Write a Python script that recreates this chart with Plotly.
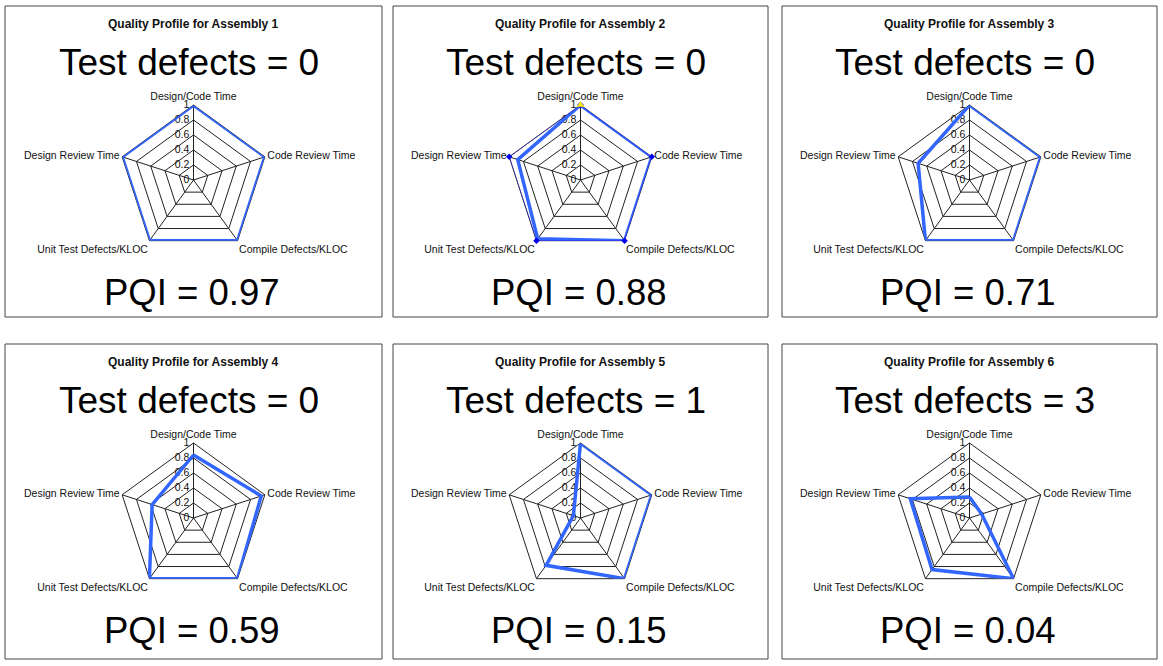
import plotly.graph_objects as go

# ---------------- data ----------------
categories = ["Design/Code Time", "Code Review Time", "Compile Defects/KLOC",
              "Unit Test Defects/KLOC", "Design Review Time"]
assembly_names = ["Assembly 1", "Assembly 2", "Assembly 3",
                  "Assembly 4", "Assembly 5", "Assembly 6"]
profile_1 = [1.00, 1.00, 1.00, 1.00, 1.00]
profile_2 = [1.00, 1.00, 1.00, 0.97, 0.88]
profile_3 = [1.00, 1.00, 1.00, 1.00, 0.72]
profile_4 = [0.84, 0.95, 1.00, 1.00, 0.58]
profile_5 = [1.00, 1.00, 1.00, 0.78, 0.10]
profile_6 = [0.28, 0.17, 1.00, 0.85, 0.83]
profiles = [profile_1, profile_2, profile_3, profile_4, profile_5, profile_6]
reference_2 = [1.00, 1.00, 1.00, 1.00, 1.00]   # thin marked series in panel 2
test_defects = [0, 0, 0, 0, 1, 3]
pqi_values = [0.97, 0.88, 0.71, 0.59, 0.15, 0.04]
radial_ticks = [0, 0.2, 0.4, 0.6, 0.8, 1]
radial_tick_labels = ["0", "0.2", "0.4", "0.6", "0.8", "1"]

# ---------------- layout geometry ----------------
W, H = 1163, 666
col_left = [5, 393, 782]
col_right = [382, 768, 1157]
row_top = [6, 344]
row_bottom = [317, 659]
R = 75
FONT = "Arial, Liberation Sans, sans-serif"
LINE_BLUE = "#3366FF"

fig = go.Figure()
shapes, annotations = [], []
layout_polars = {}

for i in range(6):
    row, col = divmod(i, 3)
    l, r_ = col_left[col], col_right[col]
    t, b = row_top[row], row_bottom[row]
    cx = (l + r_) / 2
    cy = t + 174
    pid = "polar" if i == 0 else f"polar{i + 1}"

    vals = profiles[i]
    fig.add_trace(go.Scatterpolar(
        r=vals + vals[:1], theta=categories + categories[:1],
        mode="lines", line=dict(color=LINE_BLUE, width=3.5),
        subplot=pid, showlegend=False, hoverinfo="r+theta"))
    if i == 1:
        fig.add_trace(go.Scatterpolar(
            r=reference_2 + reference_2[:1], theta=categories + categories[:1],
            mode="lines+markers", line=dict(color="#3333FF", width=1),
            marker=dict(color="#0000EE", size=5, symbol="diamond"),
            subplot=pid, showlegend=False))
        fig.add_trace(go.Scatterpolar(
            r=reference_2[:1], theta=categories[:1], mode="markers",
            marker=dict(color="#FFEE00", size=7, symbol="triangle-up"),
            subplot=pid, showlegend=False))

    layout_polars[pid] = dict(
        domain=dict(x=[(cx - R) / W, (cx + R) / W],
                    y=[1 - (cy + R) / H, 1 - (cy - R) / H]),
        gridshape="linear",
        bgcolor="white",
        angularaxis=dict(
            direction="clockwise", rotation=90, layer="below traces",
            categoryorder="array", categoryarray=categories,
            showline=True, linecolor="#222", linewidth=1,
            showgrid=True, gridcolor="#222", gridwidth=1,
            ticks="", tickfont=dict(family=FONT, size=10.5, color="#111")),
        radialaxis=dict(
            range=[0, 1], angle=90, side="counterclockwise", tickangle=90,
            layer="below traces",
            tickvals=radial_ticks, ticktext=radial_tick_labels,
            showline=True, linecolor="#222", linewidth=1,
            showgrid=True, gridcolor="#222", gridwidth=1,
            ticks="", tickfont=dict(family=FONT, size=10.5, color="#111")),
    )

    shapes.append(dict(type="rect", xref="paper", yref="paper",
                       x0=l / W, x1=r_ / W, y0=1 - b / H, y1=1 - t / H,
                       line=dict(color="#444", width=1), fillcolor="rgba(0,0,0,0)"))
    annotations.append(dict(
        text=f"<b>Quality Profile for {assembly_names[i]}</b>",
        x=cx / W, y=1 - (t + 18) / H, xref="paper", yref="paper",
        xanchor="center", yanchor="middle", showarrow=False,
        font=dict(family=FONT, size=12, color="#111")))
    annotations.append(dict(
        text=f"Test defects = {test_defects[i]}",
        x=(cx - 5) / W, y=1 - (t + 56) / H, xref="paper", yref="paper",
        xanchor="center", yanchor="middle", showarrow=False,
        font=dict(family=FONT, size=37, color="black")))
    annotations.append(dict(
        text=f"PQI = {pqi_values[i]:.2f}",
        x=(cx - 2) / W, y=1 - (t + 286) / H, xref="paper", yref="paper",
        xanchor="center", yanchor="middle", showarrow=False,
        font=dict(family=FONT, size=36.5, color="black")))

fig.update_layout(
    width=W, height=H, autosize=False,
    margin=dict(l=0, r=0, t=0, b=0),
    paper_bgcolor="white", plot_bgcolor="white",
    showlegend=False, shapes=shapes, annotations=annotations,
    **layout_polars)

fig.write_html("out.html")
